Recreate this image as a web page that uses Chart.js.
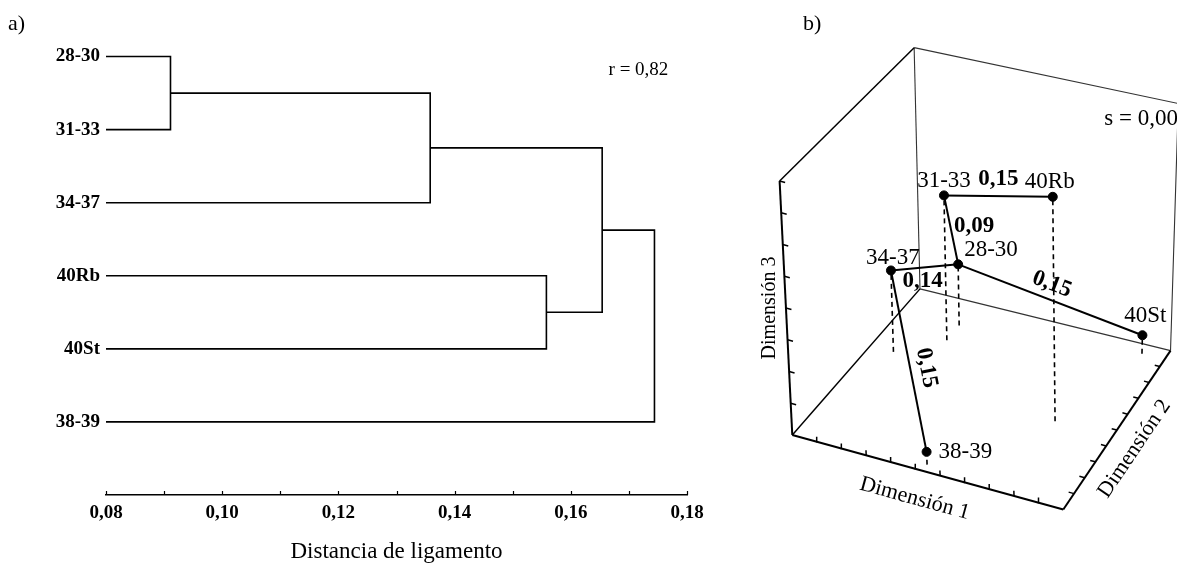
<!DOCTYPE html>
<html><head><meta charset="utf-8">
<script src="https://cdn.jsdelivr.net/npm/chart.js@4.4.1/dist/chart.umd.min.js"></script>
<style>
html,body{margin:0;padding:0;background:#fff;}
#wrap{position:relative;width:1177px;height:565px;overflow:hidden;background:#fff;font-family:'Liberation Serif','Times New Roman',serif;}
canvas{position:absolute;top:0;}
#cA{left:0}
#cB{left:740px}
.panel{position:absolute;font-size:22px;line-height:22px;color:#000}
</style></head><body>
<div id="wrap">
<canvas id="cA" width="740" height="565"></canvas>
<canvas id="cB" width="437" height="565"></canvas>
<div class="panel" style="left:8px;top:12px">a)</div>
<div class="panel" style="left:803px;top:12px">b)</div>
</div>
<script>
// ---------- Panel a: dendrogram data ----------
const leaves = ['28-30','31-33','34-37','40Rb','40St','38-39'];
const mergeLeft  = ['28-30','m0','40Rb','m1','m3'];
const mergeRight = ['31-33','34-37','40St','m2','38-39'];
const mergeDist  = [0.0911, 0.1358, 0.1558, 0.1654, 0.1744];
const distTicks  = [0.08,0.09,0.10,0.11,0.12,0.13,0.14,0.15,0.16,0.17,0.18];
const distTickLabels = ['0,08','','0,10','','0,12','','0,14','','0,16','','0,18'];
const distTitle = 'Distancia de ligamento';
const corrLabel = 'r = 0,82';

// ---------- Panel b: MDS data (fraction of the box on each dimension) ----------
const groups = ['28-30','31-33','34-37','38-39','40Rb','40St'];
const dim1 = [0.23, 0.23, 0.09, 0.48, 0.78, 0.91];
const dim2 = [0.85, 0.75, 0.61, 0.04, 0.46, 0.945];
const dim3 = [0.25, 0.59, 0.33, 0.05, 0.89, 0.075];
const linkFrom  = ['31-33','31-33','28-30','28-30','34-37'];
const linkTo    = ['40Rb','28-30','34-37','40St','38-39'];
const linkLabel = ['0,15','0,09','0,14','0,15','0,15'];
const stressLabel = 's = 0,00';
const dimTitles = ['Dimensión 1','Dimensión 2','Dimensión 3'];
const dimTickCount = [11, 10, 8];

const serif = "'Liberation Serif','Times New Roman',serif";
Chart.defaults.font.family = serif;
Chart.defaults.color = '#000';

// ---------- Panel a chart ----------
const yOf = {}, hOf = {};
leaves.forEach((l,i)=>{ yOf[l]=i; hOf[l]=distTicks[0]; });
const dendroSets = mergeLeft.map((a,i)=>{
  const b = mergeRight[i], h = mergeDist[i];
  const ds = {
    data:[{x:hOf[a],y:yOf[a]},{x:h,y:yOf[a]},{x:h,y:yOf[b]},{x:hOf[b],y:yOf[b]}],
    showLine:true, borderColor:'#000', borderWidth:1.6, pointRadius:0, fill:false, tension:0
  };
  yOf['m'+i] = (yOf[a]+yOf[b])/2; hOf['m'+i] = h;
  return ds;
});

const panelAExtras = {
  id:'panelAExtras',
  afterDraw(chart){
    const {ctx, scales:{x,y}} = chart;
    ctx.save();
    ctx.strokeStyle='#000'; ctx.lineWidth=1.2;
    const y0 = x.top;
    distTicks.forEach(v=>{
      const p = Math.round(x.getPixelForValue(v))+0.5;
      ctx.beginPath(); ctx.moveTo(p,y0); ctx.lineTo(p,y0-4); ctx.stroke();
    });
    ctx.font = '19px '+serif; ctx.fillStyle='#000'; ctx.textAlign='left'; ctx.textBaseline='middle';
    ctx.fillText(corrLabel, x.getPixelForValue(0.1665), y.getPixelForValue(0.185));
    ctx.restore();
  }
};

new Chart(document.getElementById('cA'), {
  type:'scatter',
  data:{datasets:dendroSets},
  options:{
    responsive:false, animation:false, devicePixelRatio:1, events:[],
    layout:{padding:{left:0,right:53,top:20,bottom:0}},
    plugins:{legend:{display:false}, tooltip:{enabled:false}},
    scales:{
      x:{type:'linear', min:0.08, max:0.18,
        afterBuildTicks: s=>{ s.ticks = distTicks.map(v=>({value:v})); },
        afterFit: s=>{ s.height = 70; },
        grid:{display:false, drawTicks:false},
        border:{display:true, color:'#000', width:1.5},
        ticks:{autoSkip:false, maxRotation:0, minRotation:0, padding:7, color:'#000',
          font:{size:19, weight:'bold'},
          callback:(v)=>{ const k = distTicks.findIndex(t=>Math.abs(t-v)<1e-9); return k<0?'':distTickLabels[k]; }},
        title:{display:true, text:distTitle, color:'#000', font:{size:23, lineHeight:1}, padding:{top:0,bottom:2}}
      },
      y:{type:'linear', reverse:true, min:-0.5, max:6,
        afterBuildTicks: s=>{ s.ticks = leaves.map((l,i)=>({value:i})); },
        afterFit: s=>{ s.width = 106; },
        grid:{display:false, drawTicks:false}, border:{display:false},
        ticks:{autoSkip:false, padding:6, color:'#000', font:{size:19, weight:'bold'},
          callback:(v)=> leaves[Math.round(v)] }
      }
    }
  },
  plugins:[panelAExtras]
});

// ---------- Panel b chart (perspective box projection) ----------
const view = {
  c000:[788,438], c100:[1066,514], c010:[919,289], c110:[1176,352],
  c001:[775,179], c101:[1058,250], c011:[913,43],  c111:[1184,100]
};
function bil(a,b,c,d,u,v){
  return [0,1].map(k=>(1-u)*(1-v)*a[k]+u*(1-v)*b[k]+(1-u)*v*c[k]+u*v*d[k]);
}
function project(u,v,w){
  const f = bil(view.c000,view.c100,view.c010,view.c110,u,v);
  const t = bil(view.c001,view.c101,view.c011,view.c111,u,v);
  return {x:f[0]+(t[0]-f[0])*w, y:f[1]+(t[1]-f[1])*w};
}
function posOf(g){ const i = groups.indexOf(g); return project(dim1[i],dim2[i],dim3[i]); }

const dsB = [];
function seg(p,q,style){
  dsB.push(Object.assign({data:[project(...p),project(...q)], showLine:true, pointRadius:0,
    borderColor:'#000', borderWidth:1.2, fill:false, tension:0, order:3, clip:false}, style));
}
// box edges
[[[0,0,0],[1,0,0]],[[1,0,0],[1,1,0]],[[0,0,0],[0,0,1]]].forEach(e=>seg(e[0],e[1],{borderWidth:2}));
[[[0,0,0],[0,1,0]],[[0,0,1],[0,1,1]]].forEach(e=>seg(e[0],e[1],{borderWidth:1.5}));
[[[0,1,0],[1,1,0]],[[0,1,0],[0,1,1]],[[0,1,1],[1,1,1]],[[1,1,0],[1,1,1]]].forEach(e=>seg(e[0],e[1],{borderWidth:1.1, borderColor:'#333'}));
// axis ticks
for(let k=1;k<dimTickCount[0];k++){ const u=k/dimTickCount[0]; seg([u,0,0],[u,0,0.02],{borderWidth:1.5}); }
for(let k=1;k<dimTickCount[1];k++){ const v=k/dimTickCount[1]; seg([1,v,0],[0.98,v,0],{borderWidth:1.5}); }
for(let k=1;k<=dimTickCount[2];k++){ const w=k/dimTickCount[2]; seg([0,0,w],[0.02,0,w],{borderWidth:1.5}); }
// drop lines
groups.forEach((g,i)=>seg([dim1[i],dim2[i],0],[dim1[i],dim2[i],dim3[i]],{borderWidth:1.6, borderDash:[5,4], order:2}));
// links
linkFrom.forEach((f,i)=>{
  const a = groups.indexOf(f), b = groups.indexOf(linkTo[i]);
  seg([dim1[a],dim2[a],dim3[a]],[dim1[b],dim2[b],dim3[b]],{borderWidth:2, order:1});
});
// points
dsB.push({data:groups.map((g,i)=>project(dim1[i],dim2[i],dim3[i])), showLine:false,
  pointRadius:4.5, pointBackgroundColor:'#000', pointBorderColor:'#000', order:0, clip:false});

const nodeLabelStyle = {
  '28-30':{align:'left',dx:6,dy:-14}, '31-33':{align:'center',dx:0,dy:-14},
  '34-37':{align:'center',dx:2,dy:-13}, '38-39':{align:'left',dx:12,dy:0},
  '40Rb':{align:'center',dx:-3,dy:-15}, '40St':{align:'center',dx:3,dy:-19}
};
const linkLabelStyle = [
  {rotate:false,dx:0,dy:-17},{rotate:false,dx:23,dy:-4},{rotate:false,dx:-2,dy:14},
  {rotate:true,along:-4,normal:-15},{rotate:true,along:10,normal:-16}
];

const panelBText = {
  id:'panelBText',
  afterDatasetsDraw(chart){
    const {ctx, scales:{x,y}} = chart;
    const px = p => ({x:x.getPixelForValue(p.x), y:y.getPixelForValue(p.y)});
    const put = (t,pt,font,align,rot)=>{
      ctx.save(); ctx.translate(pt.x,pt.y); ctx.rotate(rot||0);
      ctx.font=font; ctx.textAlign=align; ctx.textBaseline='middle'; ctx.fillStyle='#000';
      ctx.fillText(t,0,0); ctx.restore();
    };
    const along = (m,th,a,n)=>({x:m.x+a*Math.cos(th)-n*Math.sin(th), y:m.y+a*Math.sin(th)+n*Math.cos(th)});
    groups.forEach((g,i)=>{
      const p = px(project(dim1[i],dim2[i],dim3[i])); const s = nodeLabelStyle[g];
      put(g,{x:p.x+s.dx,y:p.y+s.dy},'23px '+serif,s.align,0);
    });
    linkFrom.forEach((f,i)=>{
      const a = px(posOf(f)), b = px(posOf(linkTo[i]));
      const m = {x:(a.x+b.x)/2, y:(a.y+b.y)/2}; const st = linkLabelStyle[i];
      if(st.rotate){
        const th = Math.atan2(b.y-a.y,b.x-a.x);
        put(linkLabel[i], along(m,th,st.along,st.normal), 'bold 23px '+serif, 'center', th);
      } else put(linkLabel[i], {x:m.x+st.dx,y:m.y+st.dy}, 'bold 23px '+serif, 'center', 0);
    });
    // axis titles
    const o = px(project(0,0,0)), e1 = px(project(1,0,0)), e12 = px(project(1,1,0));
    const th1 = Math.atan2(e1.y-o.y, e1.x-o.x);
    put(dimTitles[0], along(px(project(0.48,0,0)),th1,0,29), '22px '+serif, 'center', th1);
    const th2 = Math.atan2(e12.y-e1.y, e12.x-e1.x);
    put(dimTitles[1], along(px(project(1,0.47,0)),th2,0,25), '22px '+serif, 'center', th2);
    const th3 = -Math.PI/2;
    put(dimTitles[2], along(px(project(0,0,0.5)),th3,0,-16.5), '20px '+serif, 'center', th3);
    put(stressLabel, {x:x.getPixelForValue(1108), y:y.getPixelForValue(116)}, '23px '+serif, 'left', 0);
  }
};

new Chart(document.getElementById('cB'), {
  type:'scatter',
  data:{datasets:dsB},
  options:{
    responsive:false, animation:false, devicePixelRatio:1, events:[],
    layout:{padding:0},
    plugins:{legend:{display:false}, tooltip:{enabled:false}},
    scales:{
      x:{type:'linear', min:740, max:1177, display:false},
      y:{type:'linear', min:0, max:565, reverse:true, display:false}
    }
  },
  plugins:[panelBText]
});
</script>
</body></html>
